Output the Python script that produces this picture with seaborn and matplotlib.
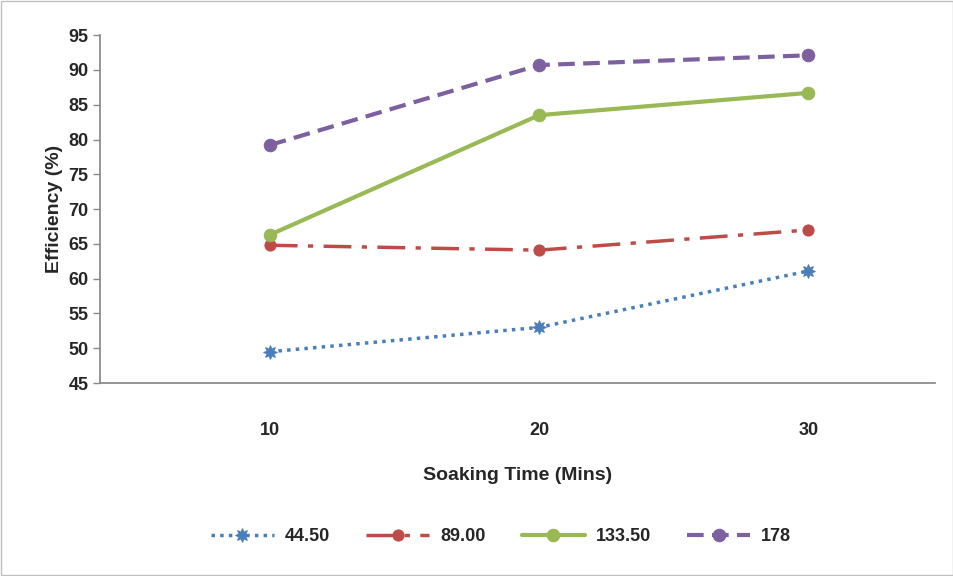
import matplotlib
matplotlib.use("Agg")
import matplotlib.pyplot as plt
import seaborn as sns
import pandas as pd

sns.set_theme(style="white")
plt.rcParams['font.family'] = ['Liberation Sans', 'DejaVu Sans']

times = [10, 20, 30]
s_4450 = [49.5, 53.0, 61.1]
s_8900 = [64.8, 64.1, 67.0]
s_13350 = [66.3, 83.5, 86.7]
s_178 = [79.2, 90.7, 92.1]
labels = ["44.50", "89.00", "133.50", "178"]

rows = []
for lab, vals in zip(labels, [s_4450, s_8900, s_13350, s_178]):
    for t, v in zip(times, vals):
        rows.append({"t": t, "v": v, "s": lab})
df = pd.DataFrame(rows)

fig = plt.figure(figsize=(9.54, 5.76), dpi=100)
ax = fig.add_axes([0.105, 0.335, 0.875, 0.604])
fig.patches.append(plt.Rectangle((0.001, 0.001), 0.998, 0.998, transform=fig.transFigure,
                                 fill=False, edgecolor="#bfbfbf", lw=1))

styles = {
    "44.50": dict(color="#4a7ebb", ls=(0, (1, 1.5)), marker=(8, 1, 0), lw=2.5, ms=10),
    "89.00": dict(color="#be4b48", ls=(0, (8, 3, 1.5, 3)), marker="o", lw=2.5, ms=8),
    "133.50": dict(color="#98b954", ls="-", marker="o", lw=3, ms=9),
    "178": dict(color="#7d60a0", ls=(0, (4, 2)), marker="o", lw=3, ms=9),
}
for lab in labels:
    d = df[df.s == lab]
    st = styles[lab]
    sns.lineplot(data=d, x="t", y="v", ax=ax, color=st["color"], linestyle=st["ls"],
                 marker=st["marker"], lw=st["lw"], markersize=st["ms"],
                 markeredgecolor=st["color"], label=lab)

ax.set_xlim(3.7, 34.7)
ax.set_ylim(45, 95)
ax.set_xticks(times)
ax.set_yticks(range(45, 96, 5))
ax.tick_params(axis="y", left=True, length=5, width=1, color="#888888")
ax.tick_params(axis="x", bottom=False, pad=22)
for t in ax.get_xticklabels() + ax.get_yticklabels():
    t.set_fontweight("bold"); t.set_fontsize(13)
for sp in ["top", "right"]:
    ax.spines[sp].set_visible(False)
for sp in ["left", "bottom"]:
    ax.spines[sp].set_color("#888888")
ax.set_xlabel("Soaking Time (Mins)", fontsize=14, fontweight="bold", labelpad=20)
ax.set_ylabel("Efficiency (%)", fontsize=14, fontweight="bold")
ax.legend(loc="upper center", bbox_to_anchor=(0.48, -0.37), ncol=4, frameon=False,
          prop={"weight": "bold", "size": 13}, handlelength=3.5, columnspacing=2,
          handletextpad=0.6)
fig.savefig("out.png", dpi=100)
